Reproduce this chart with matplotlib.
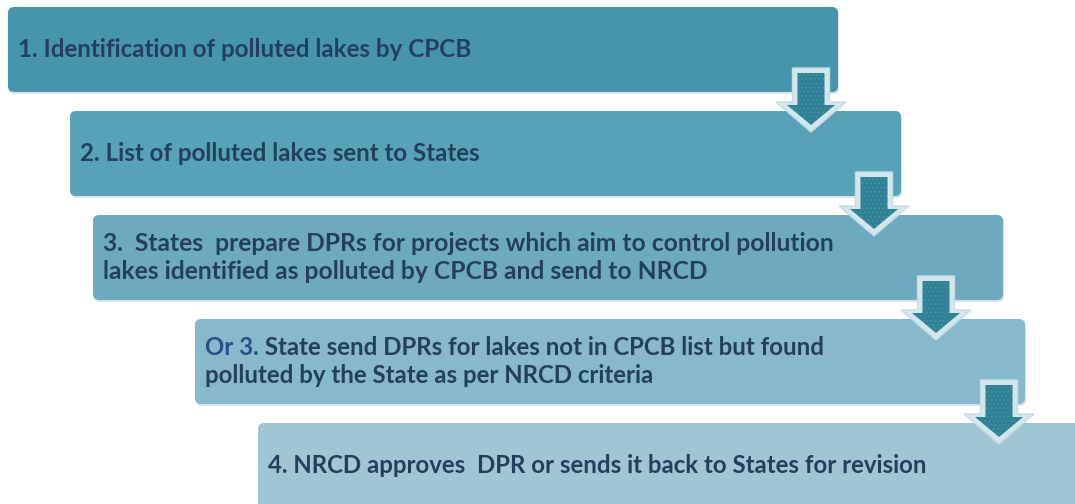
import matplotlib
matplotlib.use('Agg')
import matplotlib.pyplot as plt
from matplotlib.patches import FancyBboxPatch, Polygon

plt.rcParams['hatch.linewidth'] = 0.8

# step texts (each entry is a list of lines)
steps = [
    ["1. Identification of polluted lakes by CPCB"],
    ["2. List of polluted lakes sent to States"],
    ["3.  States  prepare DPRs for projects which aim to control pollution",
     "lakes identified as polluted by CPCB and send to NRCD"],
    ["Or 3. State send DPRs for lakes not in CPCB list but found",
     "polluted by the State as per NRCD criteria"],
    ["4. NRCD approves  DPR or sends it back to States for revision"],
]
box_left = [8, 70, 93, 195, 258]
box_right = [838, 901, 1003, 1025, 1085]
box_colors = ['#4795AB', '#58A2B8', '#6DAAC0', '#87B8CB', '#A0C6D6']
font_sizes = [17.4, 17.4, 17.7, 17.3, 17.3]
arrow_x = [811, 874, 936, 999]

text_color = '#243F5E'
or_color = '#21528C'

fig = plt.figure(figsize=(10.75, 5.04), dpi=100)
ax = fig.add_axes([0, 0, 1, 1])
ax.set_xlim(0, 1075)
ax.set_ylim(504, 0)
ax.axis('off')

top0, pitch, box_h = 7, 104, 85

for i, lines in enumerate(steps):
    top = top0 + i * pitch
    x0, x1 = box_left[i], box_right[i]
    # faint shadow
    ax.add_patch(FancyBboxPatch((x0 + 1, top + 2), x1 - x0, box_h,
                                boxstyle="round,pad=0,rounding_size=6",
                                fc='#d8e4e8', ec='none', zorder=1))
    ax.add_patch(FancyBboxPatch((x0, top), x1 - x0, box_h,
                                boxstyle="round,pad=0,rounding_size=6",
                                fc=box_colors[i], ec='none', zorder=2))
    cy = top + box_h / 2
    if len(lines) == 1:
        ys = [cy]
    else:
        ys = [cy - 14, cy + 14]
    fs = font_sizes[i]
    for ln, y in zip(lines, ys):
        tx = x0 + 10
        if ln.startswith("Or 3."):
            t = ax.text(tx, y, "Or 3.", color=or_color, fontsize=fs,
                        fontweight='bold', family='Lato', va='center', zorder=5)
            fig.canvas.draw()
            x_off = t.get_window_extent().width
            ax.text(tx + x_off, y, ln[5:], color=text_color, fontsize=fs,
                    fontweight='bold', family='Lato', va='center', zorder=5)
        else:
            ax.text(tx, y, ln, color=text_color, fontsize=fs,
                    fontweight='bold', family='Lato', va='center', zorder=5)

# down arrows between steps
shaft_w, head_w, shaft_len, head_len = 37, 70, 34, 30
for i, cx in enumerate(arrow_x):
    top = 68 + i * pitch
    pts = [
        (cx - shaft_w / 2, top), (cx + shaft_w / 2, top),
        (cx + shaft_w / 2, top + shaft_len), (cx + head_w / 2, top + shaft_len),
        (cx, top + shaft_len + head_len),
        (cx - head_w / 2, top + shaft_len), (cx - shaft_w / 2, top + shaft_len),
    ]
    ax.add_patch(Polygon(pts, closed=True, fc='#D3E6EC', ec='#C4DDE5',
                         lw=1, zorder=6))
    b = 5
    inner = [
        (cx - shaft_w / 2 + b, top + b), (cx + shaft_w / 2 - b, top + b),
        (cx + shaft_w / 2 - b, top + shaft_len + b * 0.6),
        (cx + head_w / 2 - b * 2.2, top + shaft_len + b * 0.6),
        (cx, top + shaft_len + head_len - b * 1.4),
        (cx - head_w / 2 + b * 2.2, top + shaft_len + b * 0.6),
        (cx - shaft_w / 2 + b, top + shaft_len + b * 0.6),
    ]
    ax.add_patch(Polygon(inner, closed=True, fc='#2F8197', ec='none', zorder=7))
    ax.add_patch(Polygon(inner, closed=True, fc='none', ec='#5A9CAE',
                         hatch='....', lw=0, zorder=8, alpha=0.5))

fig.savefig('out.png', dpi=100)
